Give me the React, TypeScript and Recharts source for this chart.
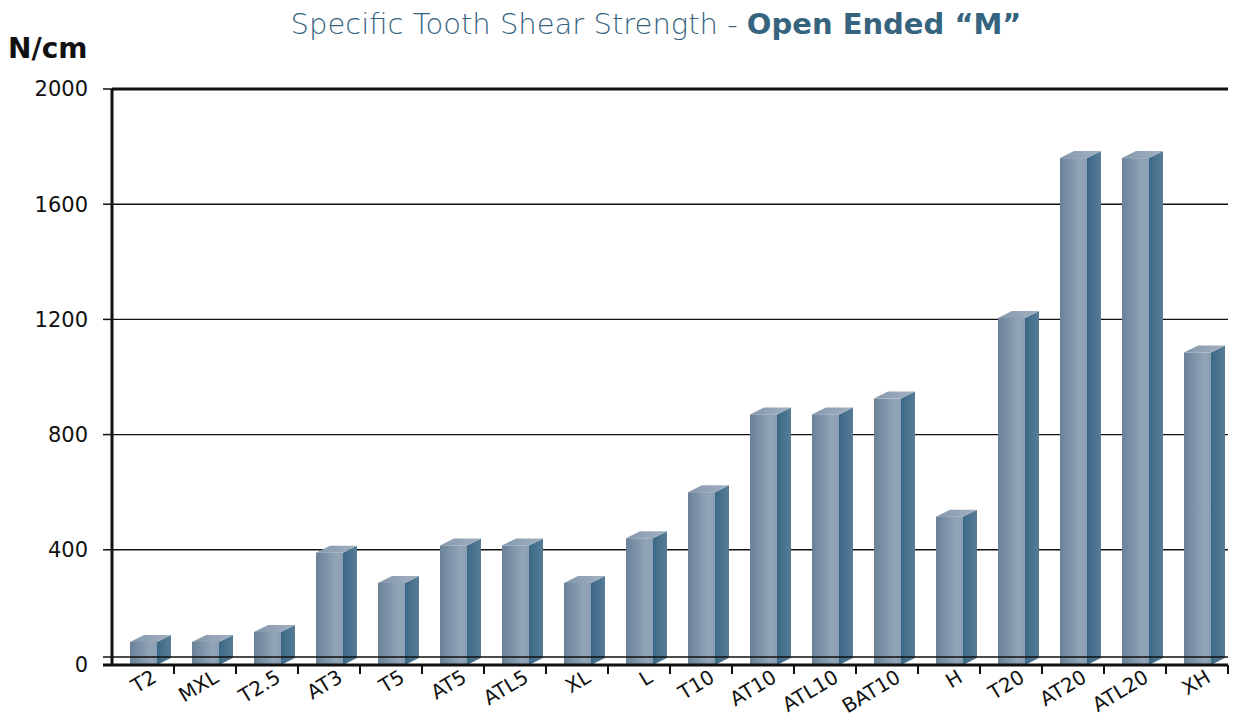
import React from "react";
import { BarChart, Bar, XAxis, YAxis, CartesianGrid, ReferenceLine } from "recharts";

const categories = ["T2","MXL","T2.5","AT3","T5","AT5","ATL5","XL","L","T10","AT10","ATL10","BAT10","H","T20","AT20","ATL20","XH"];
const strength = [80,80,115,390,285,415,415,285,440,600,870,870,925,515,1205,1760,1760,1085];
const yTicks = [0,400,800,1200,1600,2000];

const data = categories.map((c, i) => ({ name: c, value: strength[i] }));

const W = 1243, H = 717;
const M = { top: 89, right: 15, left: 0, bottom: 0 };
const Y_W = 112;
const X_H = 52;
const HALF_BAND = (W - Y_W - M.right) / categories.length / 2;
const DX = 14, DY = -7;
const FONT = "'DejaVu Sans', sans-serif";

const Bar3D = (props: any) => {
  const { x, y, width, height } = props;
  if (height == null || height <= 0) return null;
  const top = `${x},${y} ${x + DX},${y + DY} ${x + width + DX},${y + DY} ${x + width},${y}`;
  const side = `${x + width},${y} ${x + width + DX},${y + DY} ${x + width + DX},${y + height + DY} ${x + width},${y + height}`;
  return (
    <g>
      <polygon points={side} fill="url(#sideGrad)" />
      <polygon points={top} fill="url(#topGrad)" />
      <rect x={x} y={y} width={width} height={height} fill="url(#frontGrad)" />
    </g>
  );
};

const XTick = (props: any) => {
  const { x, y, payload } = props;
  const ax = x + 15;
  const ay = y + 16;
  return (
    <g>
      <line x1={x + HALF_BAND} y1={y} x2={x + HALF_BAND} y2={y + 9} stroke="#111" strokeWidth={2} />
      <text
        x={ax}
        y={ay}
        transform={`rotate(-31, ${ax}, ${ay})`}
        textAnchor="end"
        fontFamily={FONT}
        fontSize={20}
        fill="#111"
      >
        {payload.value}
      </text>
    </g>
  );
};

const FloorLine = (props: any) => {
  const { x1, y1, x2 } = props;
  return (
    <g>
      <line x1={x1 - 9} y1={y1 - 8} x2={x2} y2={y1 - 8} stroke="#111" strokeWidth={1.5} />
      <line x1={x1 - 9} y1={y1} x2={x1} y2={y1} stroke="#111" strokeWidth={3} />
    </g>
  );
};

export default function App() {
  return (
    <div style={{ position: "absolute", left: 0, top: 0, width: W, height: H, background: "#fff" }}>
      <BarChart width={W} height={H} data={data} margin={M} barSize={27}>
        <defs>
          <linearGradient id="frontGrad" x1="0" y1="0" x2="1" y2="0">
            <stop offset="0%" stopColor="#6a8198" />
            <stop offset="75%" stopColor="#92a5b8" />
            <stop offset="100%" stopColor="#8a9eb2" />
          </linearGradient>
          <linearGradient id="sideGrad" x1="0" y1="0" x2="1" y2="0">
            <stop offset="0%" stopColor="#3b6887" />
            <stop offset="100%" stopColor="#587d97" />
          </linearGradient>
          <linearGradient id="topGrad" x1="0" y1="0" x2="1" y2="0">
            <stop offset="0%" stopColor="#8497ab" />
            <stop offset="100%" stopColor="#a3b2c2" />
          </linearGradient>
        </defs>
        <text x={656} y={34} textAnchor="middle" fontFamily={FONT} fontSize={29} fill="#36647f">
          <tspan fontWeight={200}>Specific Tooth Shear Strength - </tspan>
          <tspan fontWeight={700}>Open Ended “M”</tspan>
        </text>
        <text x={8} y={58} fontFamily={FONT} fontWeight={700} fontSize={28} fill="#111">N/cm</text>
        <CartesianGrid horizontal vertical={false} stroke="#111" strokeWidth={1.4} />
        <ReferenceLine y={0} shape={FloorLine} />
        <ReferenceLine y={2000} stroke="#111" strokeWidth={3} />
        <XAxis
          dataKey="name"
          height={X_H}
          interval={0}
          tickLine={false}
          tickSize={0}
          tickMargin={0}
          axisLine={{ stroke: "#111", strokeWidth: 3 }}
          tick={<XTick />}
        />
        <YAxis
          width={Y_W}
          domain={[0, 2000]}
          ticks={yTicks}
          interval={0}
          tickSize={9}
          tickMargin={15}
          axisLine={{ stroke: "#111", strokeWidth: 3 }}
          tickLine={{ stroke: "#111", strokeWidth: 1.5 }}
          tick={{ fontFamily: FONT, fontSize: 21, fill: "#111" }}
        />
        <YAxis yAxisId="right" orientation="right" width={0} tick={false} tickLine={false} axisLine={{ stroke: "#111", strokeWidth: 2.5 }} />
        <Bar dataKey="value" shape={<Bar3D />} isAnimationActive={false} />
      </BarChart>
    </div>
  );
}
